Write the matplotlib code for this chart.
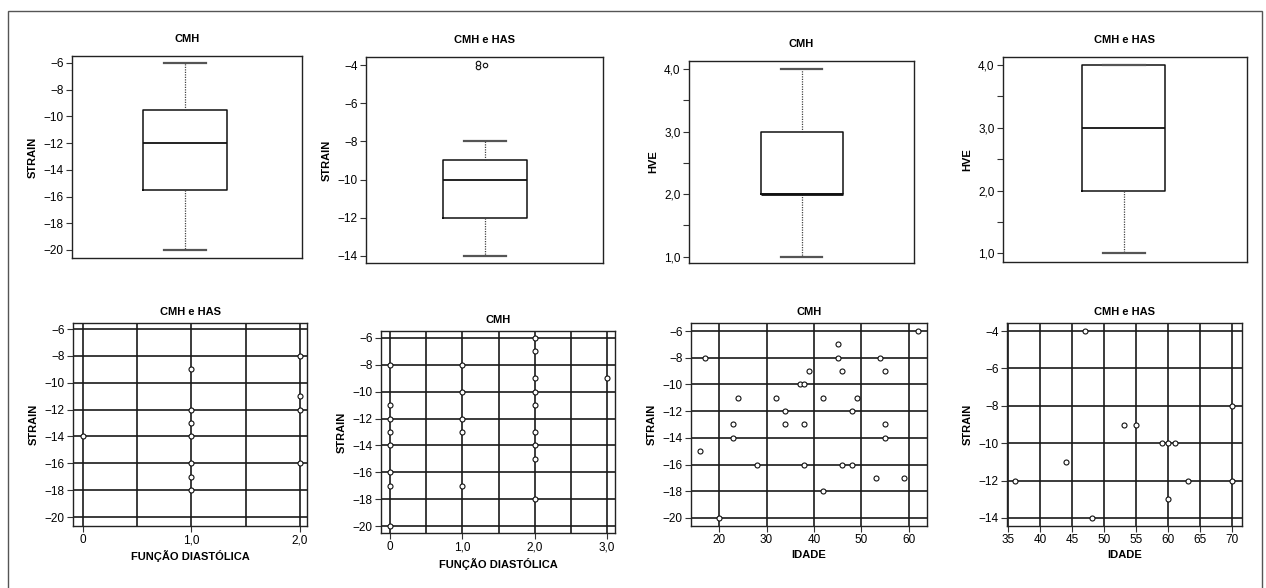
import matplotlib
matplotlib.use("Agg")
import matplotlib.pyplot as plt
from matplotlib.patches import Rectangle
from matplotlib.ticker import FixedLocator, FuncFormatter

plt.rcParams['font.family'] = ['Liberation Sans Narrow', 'Liberation Sans', 'DejaVu Sans']
plt.rcParams['axes.unicode_minus'] = True

# ---- boxplot summaries (whislo, q1, med, q3, whishi, outliers) ----
box_titles = ['CMH', 'CMH e HAS', 'CMH', 'CMH e HAS']
box_ylabels = ['STRAIN', 'STRAIN', 'HVE', 'HVE']
box_whislo = [-20, -14, 1.0, 1.0]
box_q1 = [-15.5, -12, 2.0, 2.0]
box_med = [-12, -10, 2.0, 3.0]
box_q3 = [-9.5, -9, 3.0, 4.0]
box_whishi = [-6, -8, 4.0, 4.0]
box_fliers = [[], [-4, -4, -4], [], []]

# ---- scatter: strain vs diastolic function ----
fd_has_x = [0, 1, 1, 1, 1, 1, 1, 1, 2, 2, 2, 2]
fd_has_y = [-14, -9, -12, -13, -14, -16, -17, -18, -8, -11, -12, -16]

fd_cmh_x = [0, 0, 0, 0, 0, 0, 0, 0, 1, 1, 1, 1, 1,
            2, 2, 2, 2, 2, 2, 2, 2, 2, 3]
fd_cmh_y = [-8, -11, -12, -13, -14, -16, -17, -20, -8, -10, -12, -13, -17,
            -6, -7, -9, -10, -11, -13, -14, -15, -18, -9]

# ---- scatter: strain vs age ----
age_cmh = [16, 17, 20, 23, 23, 24, 28, 32, 34, 34, 37, 38, 38, 38, 39, 42, 42,
           45, 45, 46, 46, 48, 48, 49, 53, 54, 55, 55, 55, 59, 62]
strain_cmh = [-15, -8, -20, -13, -14, -11, -16, -11, -12, -13, -10, -10, -13, -16, -9, -11, -18,
              -7, -8, -9, -16, -12, -16, -11, -17, -8, -9, -13, -14, -17, -6]

age_has = [36, 44, 47, 48, 53, 55, 59, 60, 61, 60, 63, 70, 70]
strain_has = [-12, -11, -4, -14, -9, -9, -10, -10, -10, -13, -12, -8, -12]

W, H = 1266, 588
fig = plt.figure(figsize=(W / 100, H / 100), dpi=100)


def px_axes(x0, y0, x1, y1):
    return fig.add_axes([x0 / W, 1 - y1 / H, (x1 - x0) / W, (y1 - y0) / H])


def comma(v, pos=None):
    if abs(v) < 1e-9:
        return '0'
    return f'{v:.1f}'.replace('.', ',')


def style(ax, title, ylabel, xlabel=None, pad=8):
    ax.set_title(title, fontsize=8, fontweight='bold', pad=pad)
    ax.set_ylabel(ylabel, fontsize=8, fontweight='bold', labelpad=4)
    if xlabel:
        ax.set_xlabel(xlabel, fontsize=8, fontweight='bold', labelpad=3)
    ax.tick_params(labelsize=8.5, length=4, width=0.8, pad=2, color='#333333')
    for s in ax.spines.values():
        s.set_linewidth(1.0)
        s.set_color('#222222')


# outer frame
fig.add_artist(Rectangle((8 / W, -0.01), (1262 - 8) / W, 1 - 11 / H + 0.01,
                         transform=fig.transFigure, fill=False,
                         edgecolor='#555555', linewidth=1.0))

# ---- top row: boxplots ----
box_pos = [(72, 56, 302, 258), (366, 57, 603, 263), (689, 61, 914, 263), (1003, 57, 1247, 262)]
box_ylim = [(-20.6, -5.48), (-14.37, -3.58), (0.9, 4.13), (0.86, 4.13)]
box_center = [0.49, 0.502, 0.502, 0.495]
box_width = [0.365, 0.354, 0.364, 0.34]

for i in range(4):
    ax = px_axes(*box_pos[i])
    stats = [dict(whislo=box_whislo[i], q1=box_q1[i], med=box_med[i], q3=box_q3[i],
                  whishi=box_whishi[i], fliers=[])]
    c = box_center[i]
    w = box_width[i]
    ax.bxp(stats, positions=[c], widths=[w], capwidths=[w / 2], showfliers=False,
           boxprops=dict(color='#111111', linewidth=1.1),
           medianprops=dict(color='#111111', linewidth=1.3 if i != 2 else 2.0),
           whiskerprops=dict(color='#444444', linewidth=0.9, linestyle=(0, (1, 1))),
           capprops=dict(color='#555555', linewidth=1.6))
    if box_fliers[i]:
        fx = [c - 0.028, c - 0.028, c]
        fy = [box_fliers[i][0] - 0.08, box_fliers[i][1] + 0.08, box_fliers[i][2]]
        ax.plot(fx, fy, 'o', ms=3.2, mfc='white', mec='#111111', mew=0.8)
    ax.set_xlim(0, 1)
    ax.set_ylim(*box_ylim[i])
    ax.set_xticks([])
    if i < 2:
        ax.yaxis.set_major_locator(FixedLocator(range(-20, -3, 2)))
    else:
        ax.yaxis.set_major_locator(FixedLocator([1.0, 2.0, 3.0, 4.0]))
        ax.yaxis.set_minor_locator(FixedLocator([1.5, 2.5, 3.5]))
        ax.yaxis.set_major_formatter(FuncFormatter(comma))
        ax.tick_params(axis='y', which='minor', length=4, width=0.8, color='#333333')
    style(ax, box_titles[i], box_ylabels[i], pad=10)

# ---- bottom row: scatter plots ----
sc_pos = [(73, 323, 307, 526), (381, 331, 615, 533), (691, 323, 927, 526), (1007, 323, 1242, 526)]
sc_xlim = [(-0.092, 2.065), (-0.124, 3.11), (14.1, 63.8), (34.8, 71.5)]
sc_ylim = [(-20.67, -5.55), (-20.52, -5.48), (-20.6, -5.4), (-14.43, -3.57)]
sc_x = [fd_has_x, fd_cmh_x, age_cmh, age_has]
sc_y = [fd_has_y, fd_cmh_y, strain_cmh, strain_has]
sc_titles = ['CMH e HAS', 'CMH', 'CMH', 'CMH e HAS']
sc_xlabels = ['FUNÇÃO DIASTÓLICA', 'FUNÇÃO DIASTÓLICA', 'IDADE', 'IDADE']
sc_xmajor = [[0, 1, 2], [0, 1, 2, 3], [20, 30, 40, 50, 60], list(range(35, 71, 5))]
sc_xminor = [[0.5, 1.5], [0.5, 1.5, 2.5], [], []]
sc_ymajor = [range(-20, -5, 2), range(-20, -5, 2), range(-20, -5, 2), range(-14, -3, 2)]

for i in range(4):
    ax = px_axes(*sc_pos[i])
    ax.set_xlim(*sc_xlim[i])
    ax.set_ylim(*sc_ylim[i])
    ax.xaxis.set_major_locator(FixedLocator(sc_xmajor[i]))
    ax.xaxis.set_minor_locator(FixedLocator(sc_xminor[i]))
    ax.yaxis.set_major_locator(FixedLocator(list(sc_ymajor[i])))
    if i < 2:
        ax.xaxis.set_major_formatter(FuncFormatter(comma))
    ax.grid(True, which='both', color='#1a1a1a', linewidth=1.2)
    ax.tick_params(which='minor', length=0)
    ax.set_axisbelow(True)
    ax.plot(sc_x[i], sc_y[i], 'o', ms=3.6, mfc='white', mec='#111111', mew=0.8,
            linestyle='none', zorder=3, clip_on=False)
    style(ax, sc_titles[i], 'STRAIN', sc_xlabels[i], pad=6)

fig.savefig('out.png', dpi=100)
